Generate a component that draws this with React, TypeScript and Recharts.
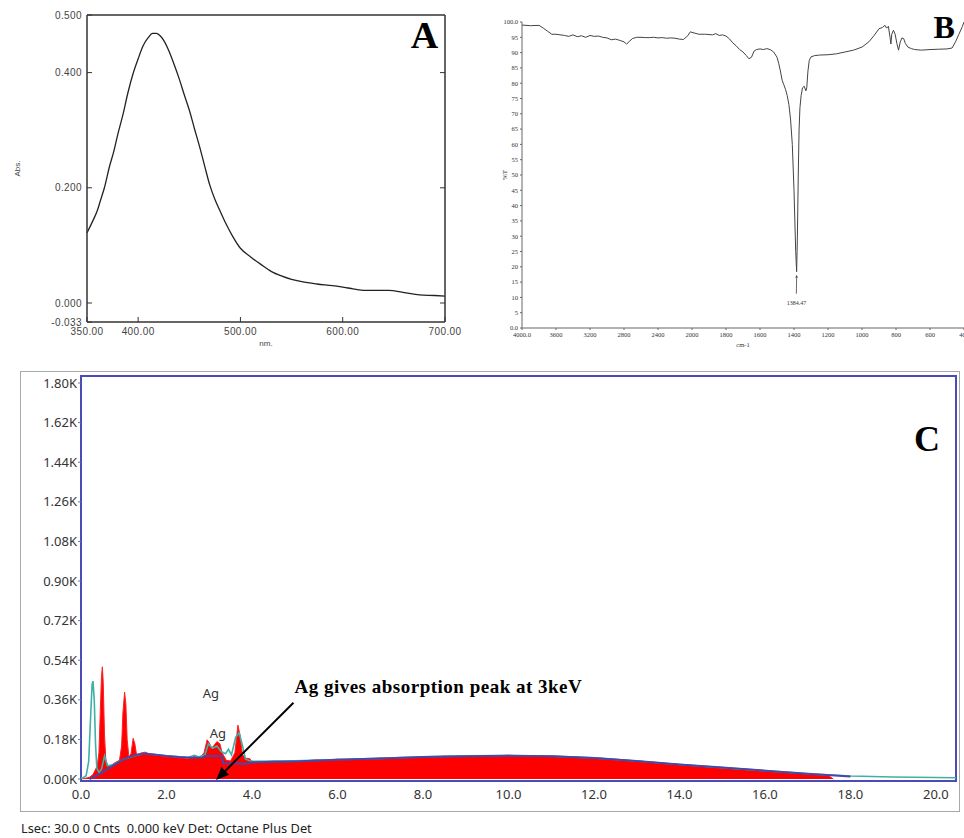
import React from "react";
import {
  Area,
  ComposedChart,
  Label,
  Line,
  LineChart,
  ReferenceArea,
  ReferenceDot,
  ReferenceLine,
  XAxis,
  YAxis,
} from "recharts";

// Panel A: UV-vis absorbance
const uvWavelength = [
  350, 355, 360, 363, 367, 372, 376, 380, 385, 390, 395, 400, 405, 410, 414, 418, 422, 426, 430, 435, 440, 445, 450,
  455, 460, 465, 470, 475, 480, 486, 492, 500, 510, 520, 530, 540, 550, 560, 575, 590, 605, 620, 645, 660, 675, 690,
  700,
];
const uvAbsorbance = [
  0.122, 0.14, 0.16, 0.177, 0.2, 0.237, 0.262, 0.292, 0.326, 0.365, 0.398, 0.424, 0.447, 0.461, 0.468, 0.468, 0.463,
  0.453, 0.438, 0.415, 0.39, 0.362, 0.335, 0.303, 0.272, 0.238, 0.205, 0.18, 0.16, 0.137, 0.117, 0.095, 0.08, 0.067,
  0.055, 0.047, 0.041, 0.037, 0.033, 0.03, 0.026, 0.022, 0.022, 0.018, 0.014, 0.013, 0.012,
];
const uvTicksX = [350, 400, 500, 600, 700];
const uvLabelsX = ["350.00", "400.00", "500.00", "600.00", "700.00"];
const uvTicksY = [-0.033, 0, 0.2, 0.4, 0.5];
const uvLabelsY = ["-0.033", "0.000", "0.200", "0.400", "0.500"];

// Panel B: FTIR transmittance
const irWavenumber = [
  4000, 3900, 3800, 3750, 3700, 3650, 3600, 3500, 3450, 3400, 3350, 3300, 3250, 3200, 3150, 3100, 3050, 3000, 2950,
  2900, 2850, 2800, 2770, 2740, 2700, 2650, 2600, 2550, 2500, 2450, 2400, 2350, 2300, 2250, 2200, 2150, 2100, 2050,
  2020, 2000, 1960, 1920, 1880, 1860, 1840, 1820, 1800, 1780, 1760, 1740, 1720, 1700, 1680, 1665, 1650, 1635, 1620,
  1600, 1580, 1560, 1540, 1520, 1500, 1490, 1480, 1470, 1460, 1450, 1440, 1430, 1420, 1410, 1400, 1395, 1390, 1384.47,
  1380, 1375, 1370, 1365, 1358, 1350, 1340, 1330, 1325, 1318, 1310, 1300, 1280, 1250, 1200, 1150, 1100, 1050, 1000,
  960, 930, 900, 880, 865, 855, 845, 835, 830, 825, 815, 805, 795, 785, 775, 765, 755, 745, 730, 710, 690, 650, 600,
  550, 500, 470, 450, 430, 410, 400,
];
const irTransmittance = [
  99.0, 98.8, 98.9, 98.0, 97.0, 96.0, 96.0, 95.6, 95.3, 95.8, 95.2, 95.5, 95.0, 95.6, 95.3, 95.4, 95.0, 94.8, 94.2,
  94.4, 94.0, 93.5, 92.8, 93.6, 94.6, 95.0, 95.0, 94.9, 94.9, 95.0, 94.8, 94.9, 94.7, 94.8, 94.7, 94.4, 94.3, 95.5,
  96.8, 96.6, 96.0, 96.0, 95.8, 96.2, 95.6, 95.8, 95.4, 94.5, 93.2, 92.2, 91.0, 90.2, 89.0, 88.0, 88.5, 90.5, 91.0,
  91.2, 91.0, 91.3, 91.0, 90.2, 88.5, 86.5, 84.0, 81.0, 79.5, 78.0, 76.0, 73.0, 68.0, 60.0, 45.0, 35.0, 25.0, 18.4,
  30.0, 50.0, 65.0, 72.0, 76.0, 78.5, 79.0, 77.5, 78.5, 84.0, 87.5, 88.6, 89.0, 89.2, 89.3, 89.6, 90.2, 90.8, 91.8,
  93.5, 95.5, 97.8, 98.2, 98.9, 98.0, 98.6, 95.0, 92.8, 96.0, 97.3, 96.0, 93.0, 90.8, 93.5, 94.8, 94.6, 93.0, 91.8,
  91.3, 91.0, 90.8, 91.0, 91.1, 91.2, 91.5, 93.5, 96.0, 98.5, 100.0,
];
const irTickWavenumbers = [4000, 3600, 3200, 2800, 2400, 2000, 1800, 1600, 1400, 1200, 1000, 800, 600, 400];
const irLabelsX = ["4000.0", "3600", "3200", "2800", "2400", "2000", "1800", "1600", "1400", "1200", "1000", "800", "600", "400"];
const irTicksY = [0, 5, 10, 15, 20, 25, 30, 35, 40, 45, 50, 55, 60, 65, 70, 75, 80, 85, 90, 95, 100];
const irLabelsY = ["0.0", "5", "10", "15", "20", "25", "30", "35", "40", "45", "50", "55", "60", "65", "70", "75", "80", "85", "90", "95", "100.0"];

// Panel C: EDS spectrum
const edsKeV = [
  0, 0.1, 0.2, 0.28, 0.33, 0.38, 0.42, 0.45, 0.48, 0.5, 0.52, 0.55, 0.58, 0.62, 0.7, 0.8, 0.9, 0.95, 0.98, 1.02, 1.05,
  1.08, 1.12, 1.17, 1.22, 1.26, 1.3, 1.4, 1.5, 1.6, 1.7, 1.8, 1.9, 2.0, 2.1, 2.2, 2.3, 2.4, 2.5, 2.6, 2.7, 2.8, 2.88,
  2.95, 3.0, 3.05, 3.1, 3.18, 3.25, 3.3, 3.4, 3.5, 3.6, 3.67, 3.72, 3.78, 3.85, 3.95, 4.0, 4.25, 4.5, 4.75, 5.0, 5.25,
  5.5, 5.75, 6.0, 6.25, 6.5, 6.75, 7.0, 7.25, 7.5, 7.75, 8.0, 8.25, 8.5, 8.75, 9.0, 9.25, 9.5, 9.75, 10.0, 10.25, 10.5,
  10.75, 11.0, 11.25, 11.5, 11.75, 12.0, 12.25, 12.5, 12.75, 13.0, 13.25, 13.5, 13.75, 14.0, 14.25, 14.5, 14.75, 15.0,
  15.25, 15.5, 15.75, 16.0, 16.25, 16.5, 16.75, 17.0, 17.25, 17.5, 17.6,
];
const edsCounts = [
  0, 3, 8, 20, 40, 60, 120, 300, 470, 510, 440, 200, 90, 60, 62, 75, 85, 150, 300, 395, 340, 180, 100, 115, 185, 160,
  110, 118, 122, 115, 112, 110, 105, 100, 104, 98, 96, 95, 92, 100, 104, 100, 120, 178, 165, 140, 150, 170, 160, 120,
  85, 82, 120, 245, 200, 110, 95, 92, 80, 78, 82, 80, 84, 83, 87, 86, 90, 89, 92, 91, 95, 94, 98, 97, 101, 100, 104,
  103, 106, 105, 107, 106, 108, 106, 107, 105, 105, 102, 101, 98, 97, 93, 90, 86, 82, 78, 74, 70, 66, 62, 59, 55, 52,
  48, 45, 41, 38, 34, 30, 27, 23, 19, 14, 0,
];
const bkgKeV = [
  0.2, 0.3, 0.4, 0.5, 0.7, 0.9, 1.1, 1.3, 1.5, 1.7, 2.0, 2.3, 2.6, 2.85, 2.9, 3.3, 3.32, 3.7, 3.85, 4.0, 5.0, 6.0, 7.0,
  8.0, 9.0, 10.0, 11.0, 12.0, 13.0, 14.0, 15.0, 16.0, 17.0, 18.0,
];
const bkgCounts = [
  0, 10, 20, 30, 55, 78, 98, 110, 115, 112, 105, 100, 97, 98, 105, 105, 72, 70, 68, 76, 80, 88, 93, 100, 104, 106, 104,
  96, 82, 66, 52, 38, 24, 12,
];
const fitKeV = [
  0, 0.05, 0.12, 0.18, 0.22, 0.26, 0.28, 0.31, 0.34, 0.37, 0.42, 0.48, 0.55, 0.62, 0.75, 1.0, 1.3, 1.5, 2.0, 2.5, 2.65,
  2.75, 2.9, 2.98, 3.08, 3.18, 3.28, 3.38, 3.45, 3.52, 3.62, 3.7, 3.78, 3.85, 4.0, 5.0, 6.0, 7.0, 8.0, 9.0, 10.0, 11.0,
  12.0, 13.0, 14.0, 15.0, 16.0, 17.0, 18.0, 19.0, 20.0, 20.47,
];
const fitCounts = [
  4, 6, 15, 80, 260, 430, 445, 360, 160, 50, 30, 45, 105, 60, 65, 90, 108, 116, 106, 98, 108, 100, 110, 160, 140, 150,
  125, 115, 135, 110, 190, 210, 150, 90, 80, 83, 89, 94, 101, 105, 107, 104, 96, 82, 66, 52, 38, 24, 14, 9, 7, 6,
];
const edsTicksX = [0, 2, 4, 6, 8, 10, 12, 14, 16, 18, 20];
const edsLabelsX = ["0.0", "2.0", "4.0", "6.0", "8.0", "10.0", "12.0", "14.0", "16.0", "18.0", "20.0"];
const edsTicksY = [0, 180, 360, 540, 720, 900, 1080, 1260, 1440, 1620, 1800];
const edsLabelsY = ["0.00K", "0.18K", "0.36K", "0.54K", "0.72K", "0.90K", "1.08K", "1.26K", "1.44K", "1.62K", "1.80K"];

const wnToPos = (wn: number) => (wn >= 2000 ? (4000 - wn) / 400 : 5 + (2000 - wn) / 200);

const serif = "'Liberation Serif', 'Times New Roman', serif";
const sans = "'Liberation Sans', Arial, sans-serif";
const eds = "'Noto Sans', 'Open Sans', sans-serif";

const noTick = () => <g />;

function Arrow(props: any) {
  const { x1, y1, x2, y2, stroke, strokeWidth, head } = props;
  const ang = Math.atan2(y2 - y1, x2 - x1);
  const w = head * 0.42;
  const bx = x2 - head * Math.cos(ang);
  const by = y2 - head * Math.sin(ang);
  const pts = `${x2},${y2} ${bx + w * Math.sin(ang)},${by - w * Math.cos(ang)} ${bx - w * Math.sin(ang)},${by + w * Math.cos(ang)}`;
  return (
    <g>
      <line x1={x1} y1={y1} x2={bx} y2={by} stroke={stroke} strokeWidth={strokeWidth} />
      <polygon points={pts} fill={stroke} />
    </g>
  );
}

function UvPanel() {
  const data = uvWavelength.map((nm, i) => ({ nm, abs: uvAbsorbance[i] }));
  const tick = { fill: "#444", fontSize: 10, fontFamily: sans, letterSpacing: 0.4 };
  const frame = { stroke: "#333", strokeWidth: 1.5 };
  return (
    <LineChart width={480} height={350} data={data} margin={{ top: 14, right: 34, bottom: 3, left: 0 }}>
      <XAxis
        dataKey="nm"
        type="number"
        domain={[350, 700]}
        ticks={uvTicksX}
        interval={0}
        tickFormatter={(_v, i) => uvLabelsX[i]}
        tick={tick}
        tickSize={-5}
        tickMargin={11}
        height={25}
        axisLine={frame}
        tickLine={{ stroke: "#333" }}
      >
        <Label value="nm." position="insideBottom" offset={1} style={{ fontSize: 8, fill: "#444", fontFamily: sans }} />
      </XAxis>
      <XAxis
        xAxisId="top"
        orientation="top"
        type="number"
        domain={[350, 700]}
        ticks={[400, 500, 600]}
        interval={0}
        tick={noTick}
        tickSize={-5}
        height={1}
        axisLine={frame}
        tickLine={{ stroke: "#333" }}
      />
      <YAxis
        type="number"
        domain={[-0.033, 0.5]}
        ticks={uvTicksY}
        interval={0}
        tickFormatter={(_v, i) => uvLabelsY[i]}
        tick={tick}
        tickSize={-5}
        tickMargin={10}
        width={87}
        axisLine={frame}
        tickLine={{ stroke: "#333" }}
        allowDataOverflow
      >
        <Label
          value="Abs."
          angle={-90}
          position="insideLeft"
          offset={17}
          style={{ fontSize: 8, fill: "#444", fontFamily: sans, textAnchor: "middle" }}
        />
      </YAxis>
      <YAxis
        yAxisId="right"
        orientation="right"
        type="number"
        domain={[-0.033, 0.5]}
        ticks={[0, 0.2, 0.4]}
        interval={0}
        tick={noTick}
        tickSize={-5}
        width={1}
        axisLine={frame}
        tickLine={{ stroke: "#333" }}
        allowDataOverflow
      />
      <Line type="monotone" dataKey="abs" stroke="#222" strokeWidth={1.3} dot={false} isAnimationActive={false} />
      <ReferenceDot
        x={680}
        y={0.466}
        r={0}
        fill="none"
        stroke="none"
        label={{ value: "A", position: "center", fontSize: 38, fontWeight: "bold", fontFamily: serif, fill: "#000" }}
      />
    </LineChart>
  );
}

function IrPanel() {
  const data = irWavenumber.map((wn, i) => ({ pos: wnToPos(wn), t: irTransmittance[i] }));
  const tick = { fill: "#333", fontSize: 6.5, fontFamily: serif };
  return (
    <LineChart width={484} height={355} data={data} margin={{ top: 22, right: 0, bottom: 7, left: 0 }}>
      <XAxis
        dataKey="pos"
        type="number"
        domain={[0, 13]}
        ticks={irTickWavenumbers.map(wnToPos)}
        interval={0}
        tickFormatter={(_v, i) => irLabelsX[i]}
        tick={tick}
        tickSize={2}
        tickMargin={2}
        height={20}
        axisLine={{ stroke: "#666" }}
        tickLine={{ stroke: "#666" }}
      >
        <Label value="cm-1" position="insideBottom" offset={1} style={{ fontSize: 6.5, fill: "#333", fontFamily: serif }} />
      </XAxis>
      <YAxis
        type="number"
        domain={[0, 100]}
        ticks={irTicksY}
        interval={0}
        tickFormatter={(_v, i) => irLabelsY[i]}
        tick={tick}
        tickSize={2}
        tickMargin={2}
        width={42}
        axisLine={{ stroke: "#666" }}
        tickLine={{ stroke: "#666" }}
      >
        <Label
          value="%T"
          angle={-90}
          position="insideLeft"
          offset={25}
          style={{ fontSize: 7, fill: "#333", fontFamily: serif, textAnchor: "middle" }}
        />
      </YAxis>
      <Line type="linear" dataKey="t" stroke="#444" strokeWidth={1} dot={false} isAnimationActive={false} />
      <ReferenceLine
        segment={[
          { x: wnToPos(1386), y: 11.2 },
          { x: wnToPos(1384.47), y: 17.4 },
        ]}
        stroke="#444"
        strokeWidth={0.8}
        shape={(p: any) => <Arrow {...p} head={3} />}
      />
      <ReferenceDot
        x={wnToPos(1386)}
        y={8.2}
        r={0}
        fill="none"
        stroke="none"
        label={{ value: "1384.47", position: "center", fontSize: 6, fontFamily: serif, fill: "#333" }}
      />
      <ReferenceDot
        x={12.42}
        y={98.6}
        r={0}
        fill="none"
        stroke="none"
        label={{ value: "B", position: "center", fontSize: 32, fontWeight: "bold", fontFamily: serif, fill: "#000" }}
      />
    </LineChart>
  );
}

function EdsPanel() {
  const spectrum = edsKeV.map((keV, i) => ({ keV, c: edsCounts[i] }));
  const background = bkgKeV.map((keV, i) => ({ keV, c: bkgCounts[i] }));
  const fit = fitKeV.map((keV, i) => ({ keV, c: fitCounts[i] }));
  const tick = { fill: "#333", fontSize: 13, fontFamily: eds };
  const noteText = { fontFamily: eds, fontSize: 13, fill: "#333" };
  return (
    <ComposedChart width={964} height={460} margin={{ top: 16, right: 8, bottom: 9, left: 0 }}>
      <XAxis
        dataKey="keV"
        type="number"
        domain={[0, 20.47]}
        ticks={edsTicksX}
        interval={0}
        tickFormatter={(_v, i) => edsLabelsX[i]}
        tick={tick}
        tickSize={0}
        tickMargin={9}
        height={30}
        axisLine={false}
        tickLine={false}
        allowDataOverflow
      />
      <YAxis
        type="number"
        domain={[-9, 1832]}
        ticks={edsTicksY}
        interval={0}
        tickFormatter={(_v, i) => edsLabelsY[i]}
        tick={tick}
        tickSize={3}
        tickMargin={1}
        width={81}
        axisLine={false}
        tickLine={{ stroke: "#777" }}
        allowDataOverflow
      />
      <Area
        data={spectrum}
        dataKey="c"
        type="linear"
        fill="#ff0000"
        fillOpacity={1}
        stroke="#ff2020"
        strokeWidth={1}
        isAnimationActive={false}
      />
      <Line data={fit} dataKey="c" type="linear" stroke="#3fb0a8" strokeWidth={1.6} dot={false} isAnimationActive={false} />
      <Line
        data={background}
        dataKey="c"
        type="linear"
        stroke="#4a46a8"
        strokeWidth={2}
        dot={false}
        isAnimationActive={false}
      />
      <ReferenceArea
        x1={0}
        x2={20.47}
        y1={-9}
        y2={1832}
        fill="none"
        fillOpacity={0}
        stroke="#4a4ab8"
        strokeWidth={2}
        ifOverflow="visible"
      />
      <ReferenceDot x={3.04} y={391} r={0} fill="none" stroke="none" label={{ value: "Ag", position: "center", ...noteText }} />
      <ReferenceDot x={3.2} y={209} r={0} fill="none" stroke="none" label={{ value: "Ag", position: "center", ...noteText }} />
      <ReferenceLine
        segment={[
          { x: 4.97, y: 347 },
          { x: 3.16, y: -5 },
        ]}
        stroke="#000"
        strokeWidth={2}
        ifOverflow="visible"
        shape={(p: any) => <Arrow {...p} head={13} />}
      />
      <ReferenceDot
        x={8.36}
        y={423}
        r={0}
        fill="none"
        stroke="none"
        label={{
          value: "Ag gives absorption peak at 3keV",
          position: "center",
          fontSize: 19,
          letterSpacing: 0.5,
          fontWeight: "bold",
          fontFamily: serif,
          fill: "#000",
        }}
      />
      <ReferenceDot
        x={19.79}
        y={1550}
        r={0}
        fill="none"
        stroke="none"
        label={{ value: "C", position: "center", fontSize: 36, fontWeight: "bold", fontFamily: serif, fill: "#000" }}
      />
    </ComposedChart>
  );
}

export default function App() {
  return (
    <div
      style={{
        position: "absolute",
        left: 0,
        top: 0,
        width: 964,
        height: 838,
        background: "#fff",
        overflow: "hidden",
      }}
    >
      <div style={{ position: "absolute", left: 0, top: 0 }}>
        <UvPanel />
      </div>
      <div style={{ position: "absolute", left: 480, top: 0 }}>
        <IrPanel />
      </div>
      <div
        style={{
          position: "absolute",
          left: 20,
          top: 371,
          width: 940,
          height: 441,
          boxSizing: "border-box",
          border: "1.5px solid #a8a8a8",
        }}
      />
      <div style={{ position: "absolute", left: 0, top: 360 }}>
        <EdsPanel />
      </div>
      <div
        style={{
          position: "absolute",
          left: 21,
          top: 820,
          fontFamily: eds,
          fontSize: 12.8,
          lineHeight: "16px",
          color: "#222",
          whiteSpace: "pre",
        }}
      >
        {"Lsec: 30.0 0 Cnts  0.000 keV Det: Octane Plus Det"}
      </div>
    </div>
  );
}
